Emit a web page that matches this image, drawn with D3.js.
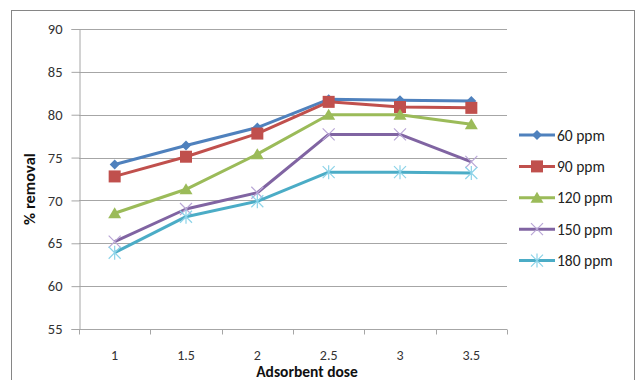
<!DOCTYPE html>
<html>
<head>
<meta charset="utf-8">
<script src="https://cdn.jsdelivr.net/npm/d3@7"></script>
<style>
  body { margin: 0; background: #fff; }
  svg { display: block; font-family: Carlito, Calibri, Lato, sans-serif; }
</style>
</head>
<body>
<svg id="chart" width="637" height="380"></svg>
<script>
// Adsorbent dose categories and % removal per initial concentration
const doses = ["1", "1.5", "2", "2.5", "3", "3.5"];
const yTicks = [55, 60, 65, 70, 75, 80, 85, 90];
const seriesNames = ["60 ppm", "90 ppm", "120 ppm", "150 ppm", "180 ppm"];
const ppm60  = [74.2, 76.4, 78.5, 81.8, 81.7, 81.6];
const ppm90  = [72.8, 75.1, 77.8, 81.5, 80.9, 80.8];
const ppm120 = [68.5, 71.3, 75.4, 80.0, 80.0, 78.9];
const ppm150 = [65.2, 69.0, 70.9, 77.7, 77.7, 74.5];
const ppm180 = [63.9, 68.1, 69.9, 73.3, 73.3, 73.2];

const seriesValues = [ppm60, ppm90, ppm120, ppm150, ppm180];
const lineColors = ["#4F81BD", "#C0504D", "#9BBB59", "#8064A2", "#4BACC6"];
const markerColors = ["#4F81BD", "#C0504D", "#9BBB59", "#B9A6D6", "#8CD3E8"];
const markerTypes = ["diamond", "square", "triangle", "x", "star"];

const svg = d3.select("#chart");
const plot = { left: 79, right: 507, top: 29, bottom: 329 };

// Outer chart frame
svg.append("rect")
  .attr("x", 11.5).attr("y", 10.5)
  .attr("width", 623).attr("height", 380)
  .attr("fill", "none").attr("stroke", "#868686").attr("stroke-width", 1);

const x = d3.scaleBand().domain(doses).range([plot.left, plot.right]);
const y = d3.scaleLinear().domain([55, 90]).range([plot.bottom, plot.top]);

// Horizontal gridlines
svg.append("g")
  .selectAll("line")
  .data(yTicks.filter(t => t > 55))
  .join("line")
  .attr("x1", plot.left).attr("x2", plot.right)
  .attr("y1", d => Math.round(y(d)) + 0.5).attr("y2", d => Math.round(y(d)) + 0.5)
  .attr("stroke", "#a6a6a6").attr("stroke-width", 1);

// Y axis
const yAxis = svg.append("g")
  .attr("transform", `translate(${plot.left + 0.5},0)`)
  .call(d3.axisLeft(y).tickValues(yTicks).tickSize(8).tickPadding(9));
yAxis.select(".domain").attr("stroke", "#a6a6a6");
yAxis.selectAll(".tick line").attr("stroke", "#a6a6a6");
yAxis.selectAll(".tick text")
  .attr("font-family", "Carlito, Calibri, Lato, sans-serif")
  .attr("font-size", 14.5).attr("fill", "#333");

// X axis with ticks at band boundaries
const xAxis = svg.append("g")
  .attr("transform", `translate(0,${plot.bottom + 0.5})`);
xAxis.append("line")
  .attr("x1", plot.left).attr("x2", plot.right)
  .attr("stroke", "#a6a6a6");
const boundaries = doses.map(d => x(d)).concat([plot.right]);
xAxis.selectAll(".bt")
  .data(boundaries)
  .join("line")
  .attr("class", "bt")
  .attr("x1", d => Math.round(d) + 0.5).attr("x2", d => Math.round(d) + 0.5)
  .attr("y1", 0).attr("y2", 5)
  .attr("stroke", "#a6a6a6");
xAxis.selectAll("text")
  .data(doses)
  .join("text")
  .attr("x", d => x(d) + x.bandwidth() / 2)
  .attr("y", 30)
  .attr("text-anchor", "middle")
  .attr("font-size", 14).attr("fill", "#333")
  .text(d => d);

// Axis titles
svg.append("text")
  .attr("x", 307).attr("y", 377)
  .attr("text-anchor", "middle")
  .attr("font-size", 15.5).attr("font-weight", "bold").attr("fill", "#111")
  .text("Adsorbent dose");
svg.append("text")
  .attr("transform", `translate(35,189) rotate(-90)`)
  .attr("text-anchor", "middle")
  .attr("font-size", 16.5).attr("font-weight", "bold").attr("fill", "#111")
  .text("% removal");

// Marker drawing
function drawMarker(g, type, color, cx, cy) {
  if (type === "diamond") {
    g.append("path")
      .attr("d", `M${cx},${cy - 5}L${cx + 5},${cy}L${cx},${cy + 5}L${cx - 5},${cy}Z`)
      .attr("fill", color);
  } else if (type === "square") {
    g.append("rect")
      .attr("x", cx - 6).attr("y", cy - 6).attr("width", 12).attr("height", 12)
      .attr("fill", color);
  } else if (type === "triangle") {
    g.append("path")
      .attr("d", `M${cx},${cy - 6}L${cx + 6.5},${cy + 5}L${cx - 6.5},${cy + 5}Z`)
      .attr("fill", color);
  } else if (type === "x") {
    g.append("path")
      .attr("d", `M${cx - 6},${cy - 6}L${cx + 6},${cy + 6}M${cx - 6},${cy + 6}L${cx + 6},${cy - 6}`)
      .attr("stroke", color).attr("stroke-width", 1.2).attr("fill", "none");
  } else if (type === "star") {
    g.append("path")
      .attr("d", `M${cx - 6},${cy - 6}L${cx + 6},${cy + 6}M${cx - 6},${cy + 6}L${cx + 6},${cy - 6}M${cx},${cy - 7}L${cx},${cy + 7}`)
      .attr("stroke", color).attr("stroke-width", 1.2).attr("fill", "none");
  }
}

const line = d3.line()
  .x((d, i) => x(doses[i]) + x.bandwidth() / 2)
  .y(d => y(d));

// Series lines and markers
seriesValues.forEach((vals, s) => {
  const g = svg.append("g");
  g.append("path")
    .attr("d", line(vals))
    .attr("fill", "none")
    .attr("stroke", lineColors[s])
    .attr("stroke-width", 3)
    .attr("stroke-linejoin", "round");
  vals.forEach((v, i) => {
    drawMarker(g, markerTypes[s], markerColors[s], x(doses[i]) + x.bandwidth() / 2, y(v));
  });
});

// Legend
const legend = svg.append("g");
seriesNames.forEach((name, s) => {
  const ly = 135 + s * 31.4;
  const g = legend.append("g");
  g.append("line")
    .attr("x1", 519).attr("x2", 555)
    .attr("y1", ly).attr("y2", ly)
    .attr("stroke", lineColors[s]).attr("stroke-width", 3);
  drawMarker(g, markerTypes[s], markerColors[s], 537, ly);
  g.append("text")
    .attr("x", 557).attr("y", ly + 5.5)
    .attr("font-size", 15.5).attr("fill", "#222")
    .text(name);
});
</script>
</body>
</html>
